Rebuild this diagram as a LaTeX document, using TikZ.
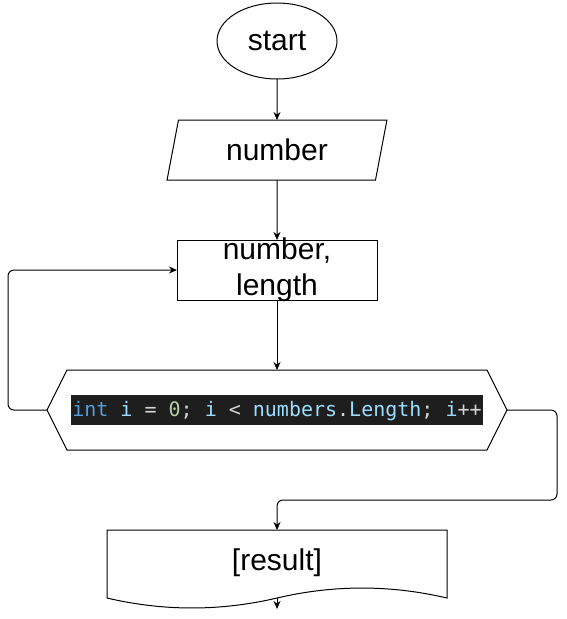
\documentclass[tikz,border=0pt]{standalone}
\usepackage{fontspec}
\setmainfont{Liberation Sans}
\newfontfamily\codefont{DejaVu Sans Mono}
\usetikzlibrary{positioning,shapes.geometric,arrows.meta}
\definecolor{codebg}{HTML}{1E1E1E}
\definecolor{codekw}{HTML}{569CD6}
\definecolor{codevar}{HTML}{9CDCFE}
\definecolor{codenum}{HTML}{B5CEA8}
\definecolor{codeop}{HTML}{D4D4D4}
\newcommand{\kw}[1]{\textcolor{codekw}{#1}}
\newcommand{\var}[1]{\textcolor{codevar}{#1}}
\newcommand{\num}[1]{\textcolor{codenum}{#1}}
\newcommand{\op}[1]{\textcolor{codeop}{#1}}

\begin{document}
\begin{tikzpicture}[x=1pt,y=-1pt,line width=1pt,>={Stealth[length=8pt,width=7pt]},outer sep=0pt,font=\fontsize{30}{36}\selectfont]
\useasboundingbox (0,0) rectangle (566,619);
\node[draw,ellipse,minimum width=120pt,minimum height=76pt,inner sep=0](start) at (277,41) {start};
\node[below=41pt of start,draw,trapezium,trapezium left angle=75,trapezium right angle=105,trapezium stretches=true,minimum width=220pt,minimum height=60pt,inner sep=0](num) {number};
\node[below=60pt of num,draw,minimum width=200pt,minimum height=60pt,label={[align=center]center:{number,\\length}}](len) {};
\node[below=70pt of len,minimum width=460pt,minimum height=80pt](loop) {};
\draw[shift={(loop.center)}] (-230,0) -- (-210,-40) -- (210,-40) -- (230,0) -- (210,40) -- (-210,40) -- cycle;
\node[fill=codebg,font=\codefont\fontsize{20}{24}\selectfont,inner xsep=1pt,inner ysep=0pt,minimum height=30pt,text height=16pt,text depth=3pt](code) at (loop) {\kw{int} \var{i} \op{=} \num{0}\op{;} \var{i} \op{<} \var{numbers}\op{.}\var{Length}\op{;} \var{i}\op{++}};
\node[below=80pt of loop,minimum width=340pt,minimum height=68pt,text height=22pt,text depth=10pt](result) {[result]};
\draw[shift={(result.center)}] (-170,-34) -- (170,-34) -- (170,34) .. controls (113.3,20.7) and (56.7,20.7) .. (0,34) .. controls (-56.7,47.3) and (-113.3,47.3) .. (-170,34) -- cycle;

\draw[->] (start) -- (num);
\draw[->] (num) -- (len);
\draw[->] (len) -- (loop);
\draw[->,rounded corners=6pt] (loop.west) -- ++(-39,0) |- (len.west);
\draw[->,rounded corners=6pt] (loop.east) -- ++(50,0) -- ++(0,90) -| (result.north);
\draw[->] (result.south) -- ++(0,11);
\end{tikzpicture}
\end{document}
